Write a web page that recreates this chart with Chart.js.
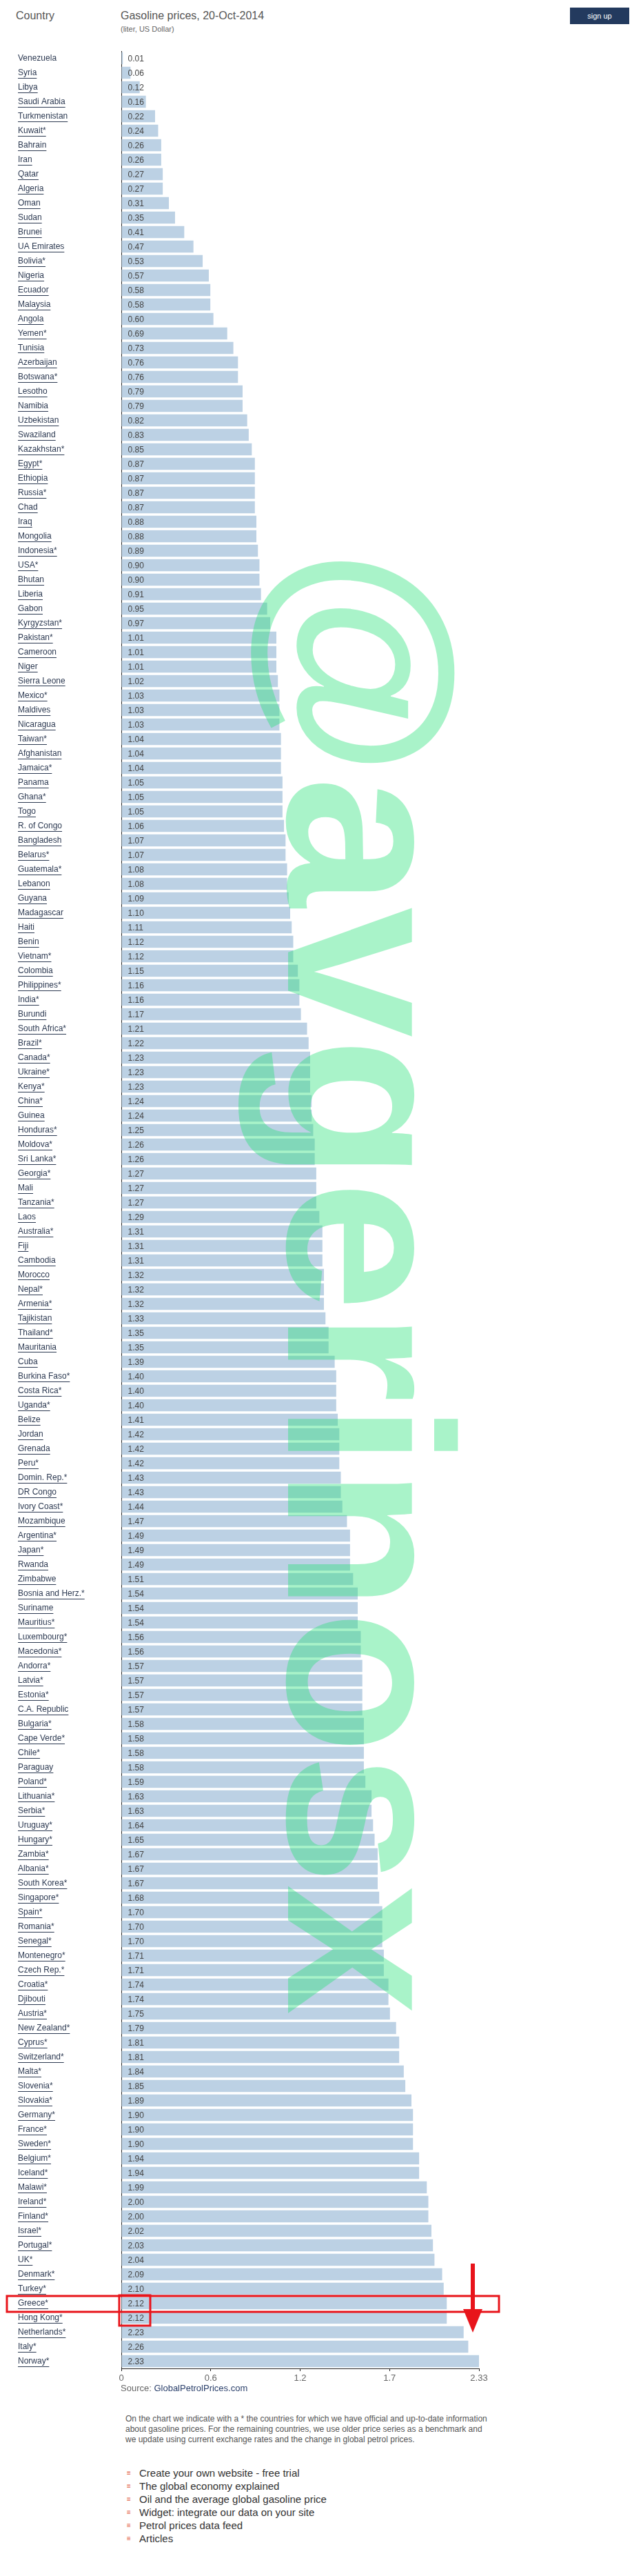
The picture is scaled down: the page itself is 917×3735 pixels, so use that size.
<!DOCTYPE html>
<html>
<head>
<meta charset="utf-8">
<script src="https://cdn.jsdelivr.net/npm/chart.js@4"></script>
<style>
  html, body { margin: 0; padding: 0; background: #fff; }
  body { position: relative; width: 917px; height: 3735px; overflow: hidden; font-family: "Liberation Sans", Arial, sans-serif; }
  .abs { position: absolute; white-space: nowrap; }
  #chart { position: absolute; left: 0; top: 0; }
  .hdr { color: #555; font-size: 16px; }
  .sub { color: #666; font-size: 11px; }
  .signup { background: #233a5e; color: #fff; font-size: 11px; text-align: center; line-height: 24px; }
  .src { color: #666; font-size: 13px; }
  .src a { color: #2a3f6a; text-decoration: none; }
  .note { color: #555; font-size: 12px; line-height: 15px; }
  .links { list-style: none; margin: 0; padding: 0; font-size: 15px; color: #333; line-height: 19px; }
  .links li::before { content: "\2261"; color: #e0553a; font-size: 10px; display: inline-block; width: 18px; vertical-align: top; }
  .wm { font-weight: bold; font-size: 340px; color: rgba(40, 225, 120, 0.4); transform: translate(-50%, -50%) rotate(90deg); line-height: 1; }
</style>
</head>
<body>
<div class="abs hdr" style="left:23px; top:14px;">Country</div>
<div class="abs hdr" style="left:175px; top:14px;">Gasoline prices, 20-Oct-2014</div>
<div class="abs sub" style="left:175px; top:36px;">(liter, US Dollar)</div>
<div class="abs signup" style="left:827px; top:11px; width:86px; height:24px;">sign up</div>

<canvas id="chart" width="730" height="3458"></canvas>

<div class="abs src" style="left:175px; top:3455px;">Source: <a>GlobalPetrolPrices.com</a></div>
<div class="abs note" style="left:182px; top:3500px;">On the chart we indicate with a * the countries for which we have official and up-to-date information<br>about gasoline prices. For the remaining countries, we use older price series as a benchmark and<br>we update using current exchange rates and the change in global petrol prices.</div>
<ul class="abs links" style="left:184px; top:3576px;">
  <li>Create your own website - free trial</li>
  <li>The global economy explained</li>
  <li>Oil and the average global gasoline price</li>
  <li>Widget: integrate our data on your site</li>
  <li>Petrol prices data feed</li>
  <li>Articles</li>
</ul>

<div class="abs wm" style="left:536px; top:1858px;">@avgerinosx</div>

<svg class="abs" style="left:0; top:0;" width="917" height="3735">
  <rect x="10" y="3329" width="714" height="23" fill="none" stroke="#e8141b" stroke-width="3"/>
  <rect x="173" y="3328" width="45" height="44" fill="none" stroke="#e8141b" stroke-width="3"/>
  <rect x="683" y="3282" width="6" height="68" fill="#e8141b"/>
  <polygon points="672,3348 700,3348 686,3382" fill="#e8141b"/>
</svg>

<script>
// 국가별 휘발유 가격 (리터당, 미국 달러), 2014-10-20
const countries = [
  "Venezuela", "Syria", "Libya", "Saudi Arabia", "Turkmenistan", "Kuwait*", "Bahrain", "Iran", "Qatar", "Algeria",
  "Oman", "Sudan", "Brunei", "UA Emirates", "Bolivia*", "Nigeria", "Ecuador", "Malaysia", "Angola", "Yemen*",
  "Tunisia", "Azerbaijan", "Botswana*", "Lesotho", "Namibia", "Uzbekistan", "Swaziland", "Kazakhstan*", "Egypt*", "Ethiopia",
  "Russia*", "Chad", "Iraq", "Mongolia", "Indonesia*", "USA*", "Bhutan", "Liberia", "Gabon", "Kyrgyzstan*",
  "Pakistan*", "Cameroon", "Niger", "Sierra Leone", "Mexico*", "Maldives", "Nicaragua", "Taiwan*", "Afghanistan", "Jamaica*",
  "Panama", "Ghana*", "Togo", "R. of Congo", "Bangladesh", "Belarus*", "Guatemala*", "Lebanon", "Guyana", "Madagascar",
  "Haiti", "Benin", "Vietnam*", "Colombia", "Philippines*", "India*", "Burundi", "South Africa*", "Brazil*", "Canada*",
  "Ukraine*", "Kenya*", "China*", "Guinea", "Honduras*", "Moldova*", "Sri Lanka*", "Georgia*", "Mali", "Tanzania*",
  "Laos", "Australia*", "Fiji", "Cambodia", "Morocco", "Nepal*", "Armenia*", "Tajikistan", "Thailand*", "Mauritania",
  "Cuba", "Burkina Faso*", "Costa Rica*", "Uganda*", "Belize", "Jordan", "Grenada", "Peru*", "Domin. Rep.*", "DR Congo",
  "Ivory Coast*", "Mozambique", "Argentina*", "Japan*", "Rwanda", "Zimbabwe", "Bosnia and Herz.*", "Suriname", "Mauritius*", "Luxembourg*",
  "Macedonia*", "Andorra*", "Latvia*", "Estonia*", "C.A. Republic", "Bulgaria*", "Cape Verde*", "Chile*", "Paraguay", "Poland*",
  "Lithuania*", "Serbia*", "Uruguay*", "Hungary*", "Zambia*", "Albania*", "South Korea*", "Singapore*", "Spain*", "Romania*",
  "Senegal*", "Montenegro*", "Czech Rep.*", "Croatia*", "Djibouti", "Austria*", "New Zealand*", "Cyprus*", "Switzerland*", "Malta*",
  "Slovenia*", "Slovakia*", "Germany*", "France*", "Sweden*", "Belgium*", "Iceland*", "Malawi*", "Ireland*", "Finland*",
  "Israel*", "Portugal*", "UK*", "Denmark*", "Turkey*", "Greece*", "Hong Kong*", "Netherlands*", "Italy*", "Norway*"
];

const prices = [
  0.01, 0.06, 0.12, 0.16, 0.22, 0.24, 0.26, 0.26, 0.27, 0.27,
  0.31, 0.35, 0.41, 0.47, 0.53, 0.57, 0.58, 0.58, 0.60, 0.69,
  0.73, 0.76, 0.76, 0.79, 0.79, 0.82, 0.83, 0.85, 0.87, 0.87,
  0.87, 0.87, 0.88, 0.88, 0.89, 0.90, 0.90, 0.91, 0.95, 0.97,
  1.01, 1.01, 1.01, 1.02, 1.03, 1.03, 1.03, 1.04, 1.04, 1.04,
  1.05, 1.05, 1.05, 1.06, 1.07, 1.07, 1.08, 1.08, 1.09, 1.10,
  1.11, 1.12, 1.12, 1.15, 1.16, 1.16, 1.17, 1.21, 1.22, 1.23,
  1.23, 1.23, 1.24, 1.24, 1.25, 1.26, 1.26, 1.27, 1.27, 1.27,
  1.29, 1.31, 1.31, 1.31, 1.32, 1.32, 1.32, 1.33, 1.35, 1.35,
  1.39, 1.40, 1.40, 1.40, 1.41, 1.42, 1.42, 1.42, 1.43, 1.43,
  1.44, 1.47, 1.49, 1.49, 1.49, 1.51, 1.54, 1.54, 1.54, 1.56,
  1.56, 1.57, 1.57, 1.57, 1.57, 1.58, 1.58, 1.58, 1.58, 1.59,
  1.63, 1.63, 1.64, 1.65, 1.67, 1.67, 1.67, 1.68, 1.70, 1.70,
  1.70, 1.71, 1.71, 1.74, 1.74, 1.75, 1.79, 1.81, 1.81, 1.84,
  1.85, 1.89, 1.90, 1.90, 1.90, 1.94, 1.94, 1.99, 2.00, 2.00,
  2.02, 2.03, 2.04, 2.09, 2.10, 2.12, 2.12, 2.23, 2.26, 2.33
];

// x축 눈금: 최대값의 1/4 간격, 표시는 원본 그대로
const tickValues = [0, 0.5825, 1.165, 1.7475, 2.33];
const tickLabels = ["0", "0.6", "1.2", "1.7", "2.33"];

const FONT = "'Liberation Sans', Arial, sans-serif";

// 막대 안쪽 왼쪽에 값 표시
const valueLabels = {
  id: "valueLabels",
  afterDatasetsDraw(chart) {
    const { ctx } = chart;
    const meta = chart.getDatasetMeta(0);
    ctx.save();
    ctx.font = "12px " + FONT;
    ctx.fillStyle = "#444";
    ctx.textBaseline = "middle";
    ctx.textAlign = "left";
    meta.data.forEach((bar, i) => {
      ctx.fillText(prices[i].toFixed(2), bar.base + 9, bar.y + 1);
    });
    ctx.restore();
  }
};

// 국가명 밑줄 (링크처럼), 첫 줄은 밑줄 없음
const underline = {
  id: "underline",
  afterDraw(chart) {
    const { ctx } = chart;
    const sc = chart.scales.y;
    ctx.save();
    ctx.font = "12px " + FONT;
    ctx.strokeStyle = "#2d3a52";
    ctx.lineWidth = 1;
    countries.forEach((name, i) => {
      if (i === 0) return;
      const y = Math.round(sc.getPixelForTick(i) + 7) + 0.5;
      const w = ctx.measureText(name).width;
      ctx.beginPath();
      ctx.moveTo(sc.left, y);
      ctx.lineTo(sc.left + w, y);
      ctx.stroke();
    });
    ctx.restore();
  }
};

new Chart(document.getElementById("chart"), {
  type: "bar",
  data: {
    labels: countries,
    datasets: [{
      data: prices,
      backgroundColor: "#bcd1e4",
      barPercentage: 0.83,
      categoryPercentage: 1.0
    }]
  },
  options: {
    indexAxis: "y",
    responsive: false,
    animation: false,
    devicePixelRatio: 1,
    layout: { padding: { left: 26, top: 74, right: 35, bottom: 0 } },
    plugins: { legend: { display: false }, tooltip: { enabled: false } },
    scales: {
      x: {
        min: 0, max: 2.33,
        afterBuildTicks: s => { s.ticks = tickValues.map(v => ({ value: v })); },
        afterFit: s => { s.height = 24; },
        grid: { drawOnChartArea: false, drawTicks: true, tickLength: 4, color: "#222" },
        border: { display: true, color: "#222", width: 1 },
        ticks: {
          padding: 3,
          color: "#666",
          font: { family: FONT, size: 13 },
          maxRotation: 0,
          callback: (v, i) => tickLabels[i]
        }
      },
      y: {
        z: 1,
        afterFit: s => { s.width = 150; },
        grid: { display: false },
        border: { display: true, color: "#222", width: 1 },
        ticks: {
          autoSkip: false,
          crossAlign: "far",
          color: "#2d3a52",
          font: { family: FONT, size: 12 }
        }
      }
    }
  },
  plugins: [valueLabels, underline]
});
</script>
</body>
</html>
